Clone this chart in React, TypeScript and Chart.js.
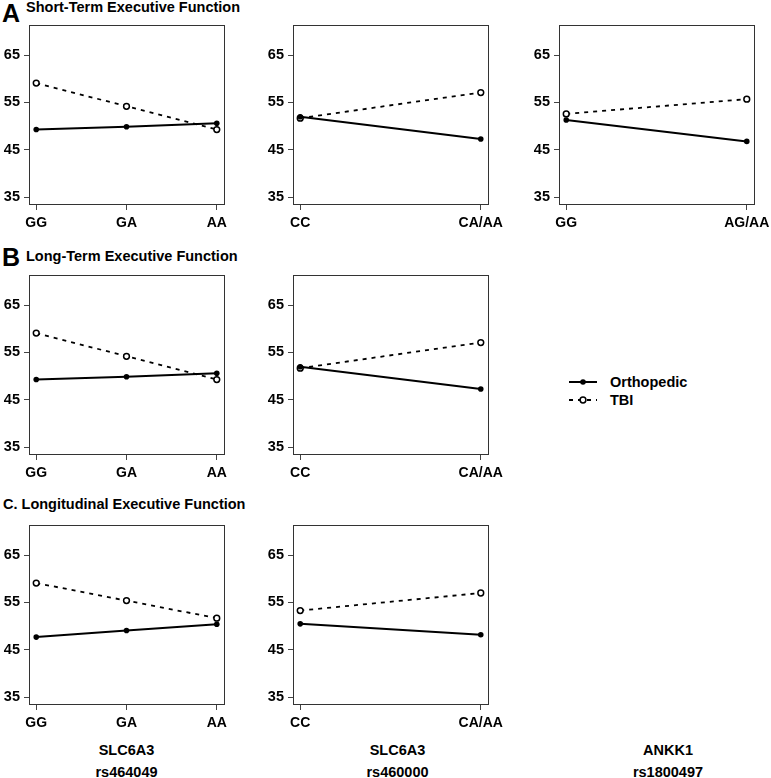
import React, { useEffect, useRef } from "react";
import { Chart, registerables } from "chart.js";

Chart.register(...registerables);

// ---- Data ----
const rs464049Labels = ["GG", "GA", "AA"];
const rs460000Labels = ["CC", "CA/AA"];
const rs1800497Labels = ["GG", "AG/AA"];

const shortRs464049Ortho = [49.3, 49.9, 50.6];
const shortRs464049TBI = [59.1, 54.2, 49.3];
const shortRs460000Ortho = [52.0, 47.3];
const shortRs460000TBI = [51.7, 57.1];
const shortRs1800497Ortho = [51.3, 46.8];
const shortRs1800497TBI = [52.6, 55.7];

const longRs464049Ortho = [49.3, 49.9, 50.6];
const longRs464049TBI = [59.1, 54.2, 49.3];
const longRs460000Ortho = [52.0, 47.3];
const longRs460000TBI = [51.7, 57.1];

const longitRs464049Ortho = [47.7, 49.1, 50.4];
const longitRs464049TBI = [59.1, 55.4, 51.7];
const longitRs460000Ortho = [50.5, 48.2];
const longitRs460000TBI = [53.3, 57.0];

const yTicks = [35, 45, 55, 65];
const yLimits = [35, 70];

const FONT = "'Liberation Sans', Arial, Helvetica, sans-serif";

// ---- Layout constants ----
const BOX_W = 195;
const BOX_H = 180;
const Y_AXIS_W = 29;
const X_AXIS_H = 32;
const PAD_TOP = 12;
const PAD_RIGHT = 34;

const boxPlugin = {
  id: "boxPlugin",
  beforeDatasetsDraw(chart: any) {
    const { ctx, chartArea } = chart;
    ctx.save();
    ctx.strokeStyle = "#333";
    ctx.lineWidth = 1;
    ctx.strokeRect(
      Math.round(chartArea.left) + 0.5,
      Math.round(chartArea.top) + 0.5,
      Math.round(chartArea.right - chartArea.left),
      Math.round(chartArea.bottom - chartArea.top)
    );
    ctx.restore();
  },
};

function Panel({ left, top, labels, ortho, tbi }: any) {
  const ref = useRef<HTMLCanvasElement>(null);
  useEffect(() => {
    if (!ref.current) return;
    const n = labels.length;
    const xpad = (n - 1) * 0.04;
    const yr = yLimits[1] - yLimits[0];
    const chart = new Chart(ref.current, {
      type: "line",
      data: {
        datasets: [
          {
            label: "Orthopedic",
            data: ortho.map((v: number, i: number) => ({ x: i + 1, y: v })),
            borderColor: "#000",
            borderWidth: 2,
            pointRadius: 2.8,
            pointBackgroundColor: "#000",
            pointBorderColor: "#000",
            pointBorderWidth: 0,
            tension: 0,
          },
          {
            label: "TBI",
            data: tbi.map((v: number, i: number) => ({ x: i + 1, y: v })),
            borderColor: "#000",
            borderWidth: 1.8,
            borderDash: [4, 5],
            pointRadius: 2.9,
            pointBackgroundColor: "#fff",
            pointBorderColor: "#000",
            pointBorderWidth: 1.5,
            tension: 0,
          },
        ],
      },
      options: {
        animation: false,
        responsive: false,
        events: [],
        layout: { padding: { top: PAD_TOP, right: PAD_RIGHT, left: 0, bottom: 0 } },
        plugins: { legend: { display: false }, tooltip: { enabled: false } },
        scales: {
          x: {
            type: "linear",
            min: 1 - xpad,
            max: n + xpad,
            bounds: "data",
            afterBuildTicks: (s: any) => {
              s.ticks = labels.map((_: string, i: number) => ({ value: i + 1 }));
            },
            afterFit: (s: any) => {
              s.height = X_AXIS_H;
            },
            ticks: {
              autoSkip: false,
              maxRotation: 0,
              padding: 5,
              color: "#000",
              font: { family: FONT, size: 14, weight: "bold" },
              callback: (v: any) => labels[Math.round(Number(v)) - 1] ?? "",
            },
            grid: { drawOnChartArea: false, drawTicks: true, tickLength: 6, color: "#444" },
            border: { display: false },
          },
          y: {
            type: "linear",
            min: yLimits[0] - yr * 0.04,
            max: yLimits[1] + yr * 0.04,
            bounds: "data",
            afterBuildTicks: (s: any) => {
              s.ticks = yTicks.map((v) => ({ value: v }));
            },
            afterFit: (s: any) => {
              s.width = Y_AXIS_W;
            },
            ticks: {
              autoSkip: false,
              padding: 4,
              color: "#000",
              font: { family: FONT, size: 14.5, weight: "bold" },
              callback: (v: any) => String(v),
            },
            grid: { drawOnChartArea: false, drawTicks: true, tickLength: 5, color: "#444" },
            border: { display: false },
          },
        },
      },
      plugins: [boxPlugin],
    } as any);
    return () => chart.destroy();
  }, []);
  const w = Y_AXIS_W + BOX_W + PAD_RIGHT;
  const h = PAD_TOP + BOX_H + X_AXIS_H;
  return (
    <canvas
      ref={ref}
      width={w}
      height={h}
      style={{
        position: "absolute",
        left: left - Y_AXIS_W,
        top: top - PAD_TOP,
        width: w,
        height: h,
      }}
    />
  );
}

function Txt({ x, y, size, children, center }: any) {
  // y is the cap-center of the text
  return (
    <div
      style={{
        position: "absolute",
        left: center ? x - 100 : x,
        width: center ? 200 : undefined,
        textAlign: center ? "center" : "left",
        top: y - size * 0.49,
        fontFamily: FONT,
        fontWeight: "bold",
        fontSize: size,
        lineHeight: `${size}px`,
        whiteSpace: "nowrap",
        color: "#000",
      }}
    >
      {children}
    </div>
  );
}

function Legend({ x, y }: any) {
  return (
    <div style={{ position: "absolute", left: x, top: y, width: 160, height: 40 }}>
      <svg width={30} height={40} style={{ position: "absolute", left: 0, top: 0 }}>
        <line x1={0} y1={8} x2={28} y2={8} stroke="#000" strokeWidth={2} />
        <circle cx={14} cy={8} r={2.8} fill="#000" />
        <line x1={0} y1={26} x2={28} y2={26} stroke="#000" strokeWidth={1.8} strokeDasharray="4 5" />
        <circle cx={14} cy={26} r={2.9} fill="#fff" stroke="#000" strokeWidth={1.5} />
      </svg>
      <Txt x={41} y={8} size={14.5}>Orthopedic</Txt>
      <Txt x={41} y={26} size={14.5}>TBI</Txt>
    </div>
  );
}

export default function App() {
  const cols = [29, 293, 559];
  const rows = [24, 274, 524];
  return (
    <div
      style={{
        position: "absolute",
        left: 0,
        top: 0,
        width: 771,
        height: 778,
        background: "#fff",
        overflow: "hidden",
      }}
    >
      <Txt x={2} y={13.5} size={25}>A</Txt>
      <Txt x={26} y={7} size={14.5}>Short-Term Executive Function</Txt>
      <Txt x={2} y={257.5} size={25}>B</Txt>
      <Txt x={26} y={256} size={14.5}>Long-Term Executive Function</Txt>
      <Txt x={3} y={504.5} size={14.5}>C. Longitudinal Executive Function</Txt>

      <Panel left={cols[0]} top={rows[0]} labels={rs464049Labels} ortho={shortRs464049Ortho} tbi={shortRs464049TBI} />
      <Panel left={cols[1]} top={rows[0]} labels={rs460000Labels} ortho={shortRs460000Ortho} tbi={shortRs460000TBI} />
      <Panel left={cols[2]} top={rows[0]} labels={rs1800497Labels} ortho={shortRs1800497Ortho} tbi={shortRs1800497TBI} />

      <Panel left={cols[0]} top={rows[1]} labels={rs464049Labels} ortho={longRs464049Ortho} tbi={longRs464049TBI} />
      <Panel left={cols[1]} top={rows[1]} labels={rs460000Labels} ortho={longRs460000Ortho} tbi={longRs460000TBI} />

      <Panel left={cols[0]} top={rows[2]} labels={rs464049Labels} ortho={longitRs464049Ortho} tbi={longitRs464049TBI} />
      <Panel left={cols[1]} top={rows[2]} labels={rs460000Labels} ortho={longitRs460000Ortho} tbi={longitRs460000TBI} />

      <Legend x={569} y={374} />

      <Txt x={126.5} y={750} size={14.5} center>SLC6A3</Txt>
      <Txt x={126.5} y={772} size={14.5} center>rs464049</Txt>
      <Txt x={397.5} y={750} size={14.5} center>SLC6A3</Txt>
      <Txt x={397.5} y={772} size={14.5} center>rs460000</Txt>
      <Txt x={668} y={750} size={14.5} center>ANKK1</Txt>
      <Txt x={668} y={772} size={14.5} center>rs1800497</Txt>
    </div>
  );
}
